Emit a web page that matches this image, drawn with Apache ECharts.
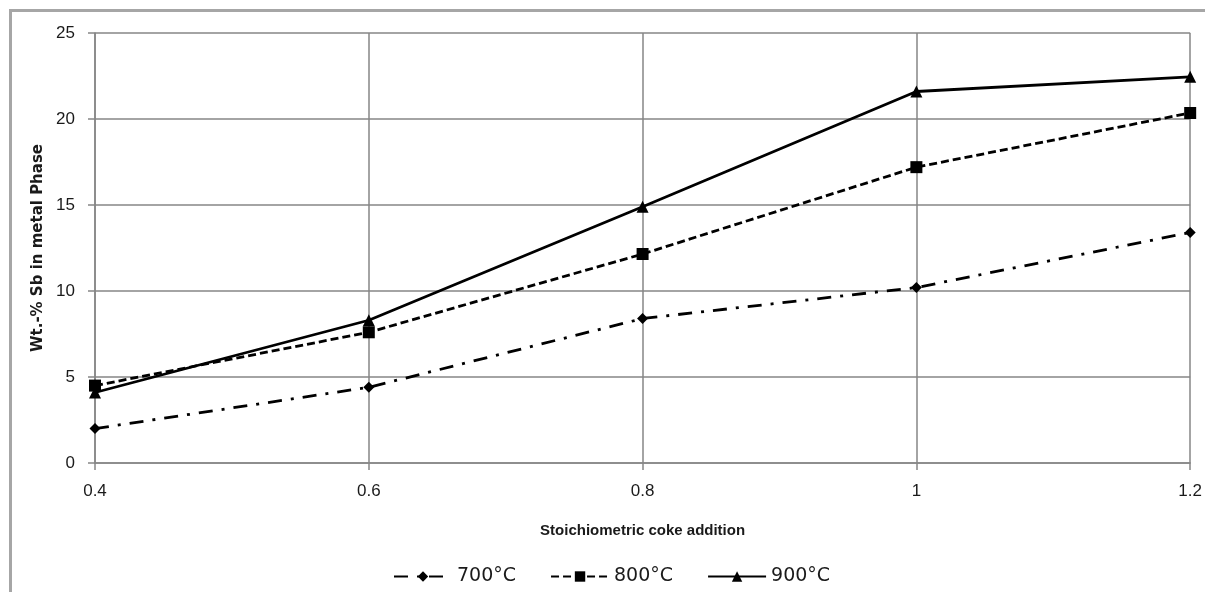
<!DOCTYPE html>
<html>
<head>
<meta charset="utf-8">
<script src="https://cdn.jsdelivr.net/npm/echarts@6/dist/echarts.min.js"></script>
<style>
  html, body { margin: 0; padding: 0; background: #fff; overflow: hidden; width: 1205px; height: 592px; }
  #frame { position: absolute; left: 9px; top: 9px; width: 1196px; height: 583px;
           border-left: 3px solid #a6a6a6; border-top: 3px solid #a6a6a6; box-sizing: border-box; }
  #chart { position: absolute; left: 0; top: 0; width: 1205px; height: 592px; }
</style>
</head>
<body>
<div id="frame"></div>
<div id="chart"></div>
<script>
// Stoichiometric coke addition (x) vs Sb content in the metal phase
const cokeAddition = [0.4, 0.6, 0.8, 1.0, 1.2];
const sb700 = [2.0, 4.4, 8.4, 10.2, 13.4];
const sb800 = [4.5, 7.6, 12.15, 17.2, 20.35];
const sb900 = [4.1, 8.3, 14.9, 21.6, 22.45];
const seriesNames = ['700°C', '800°C', '900°C'];

const pairs = ys => cokeAddition.map((x, i) => [x, ys[i]]);
const font = 'Liberation Sans, Arial, sans-serif';
const wideFont = 'DejaVu Sans, Verdana, sans-serif';

const chart = echarts.init(document.getElementById('chart'), null, { renderer: 'canvas' });
chart.setOption({
  animation: false,
  backgroundColor: 'transparent',
  grid: { left: 95, right: 3, top: 33, bottom: 129 },
  xAxis: {
    type: 'value', min: 0.4, max: 1.2, interval: 0.2,
    name: 'Stoichiometric coke addition', nameLocation: 'middle', nameGap: 60,
    nameTextStyle: { fontFamily: font, fontSize: 15, fontWeight: 'bold', color: '#1a1a1a' },
    axisLine: { show: true, lineStyle: { color: '#868686', width: 1.5 } },
    axisTick: { show: true, length: 7, lineStyle: { color: '#868686', width: 1.5 } },
    axisLabel: { fontFamily: font, fontSize: 17, color: '#1a1a1a', margin: 20,
      formatter: v => String(Math.round(v * 10) / 10) },
    splitLine: { show: true, lineStyle: { color: '#868686', width: 1.5 } }
  },
  yAxis: {
    type: 'value', min: 0, max: 25, interval: 5,
    name: 'Wt.-% Sb in metal Phase', nameLocation: 'middle', nameGap: 48,
    nameTextStyle: { fontFamily: wideFont, fontSize: 15, fontWeight: 'bold', color: '#1a1a1a' },
    axisLine: { show: true, lineStyle: { color: '#868686', width: 1.5 } },
    axisTick: { show: true, length: 7, lineStyle: { color: '#868686', width: 1.5 } },
    axisLabel: { fontFamily: font, fontSize: 17, color: '#1a1a1a', margin: 20 },
    splitLine: { show: true, lineStyle: { color: '#868686', width: 1.5 } }
  },
  legend: {
    bottom: 1, left: 388, itemGap: 34, itemWidth: 58, itemHeight: 13,
    textStyle: { fontFamily: wideFont, fontSize: 19, color: '#1a1a1a' },
    data: seriesNames
  },
  series: [
    {
      name: seriesNames[0], type: 'line', data: pairs(sb700),
      symbol: 'diamond', symbolSize: 11,
      lineStyle: { color: '#000', width: 2.8, type: [14, 9, 3, 9] },
      itemStyle: { color: '#000' }
    },
    {
      name: seriesNames[1], type: 'line', data: pairs(sb800),
      symbol: 'rect', symbolSize: 12,
      lineStyle: { color: '#000', width: 2.8, type: [8, 4] },
      itemStyle: { color: '#000' }
    },
    {
      name: seriesNames[2], type: 'line', data: pairs(sb900),
      symbol: 'triangle', symbolSize: 12,
      lineStyle: { color: '#000', width: 2.8, type: 'solid' },
      itemStyle: { color: '#000' }
    }
  ]
});
</script>
</body>
</html>
